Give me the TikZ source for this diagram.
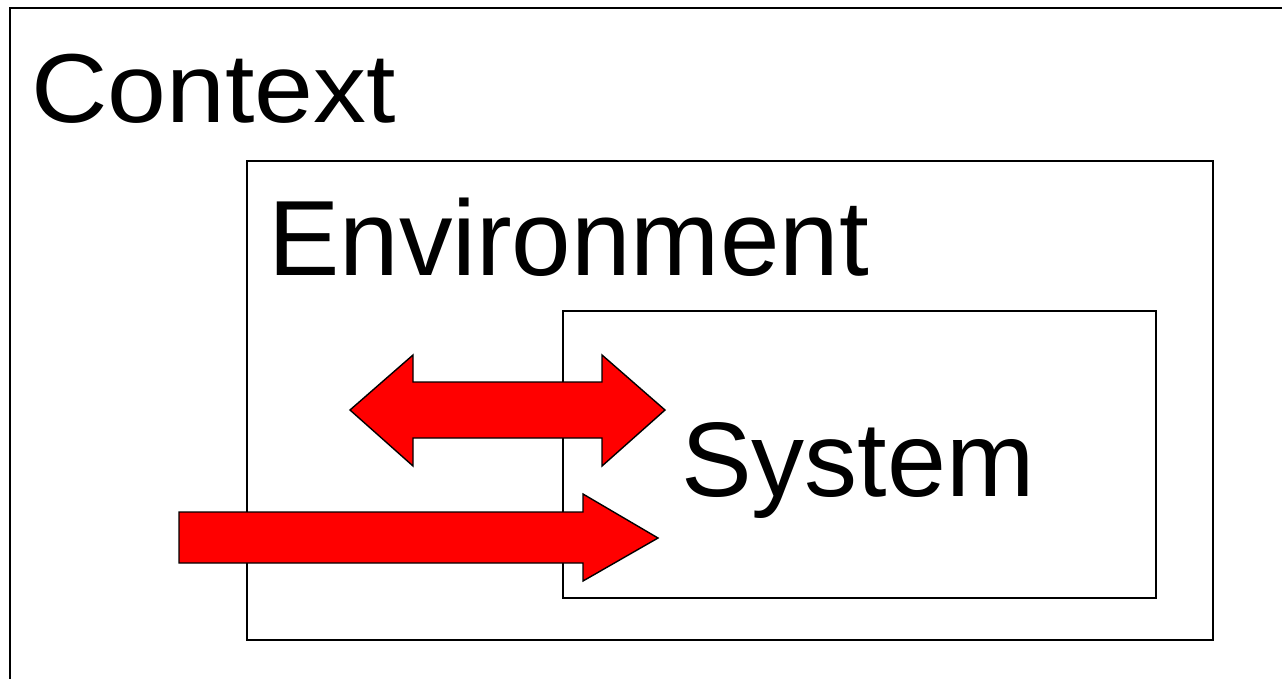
\documentclass[tikz,border=0pt]{standalone}
\usepackage{fontspec}
\setmainfont{Liberation Sans}
\begin{document}
\begin{tikzpicture}[x=1pt,y=-1pt,
  box/.style={draw=black,line width=1.8pt},
  blockarrow/.style={draw=black,fill=red,line width=1.4pt,line join=miter},
  label/.style={inner sep=0pt,anchor=base west,text=black}]
\useasboundingbox (0,0) rectangle (1282,678);
\begin{scope}
\clip (0,0) rectangle (1282,678);
\draw[box,line width=2pt] (10,8) rectangle (1300,700);
\end{scope}
\draw[box] (247,161) rectangle (1213,640);
\draw[box,line width=1.5pt] (563,311) rectangle (1156,598);
% double arrow
\draw[blockarrow] (350,410) -- (413,355) -- (413,382) -- (602,382) -- (602,355) -- (665,410)
  -- (602,466) -- (602,438) -- (413,438) -- (413,466) -- cycle;
% single arrow
\draw[blockarrow] (179,512) -- (583,512) -- (583,494) -- (658,538) -- (583,581) -- (583,563) -- (179,563) -- cycle;
\node[label] (ctx) at (31,122) {\scalebox{1.08}[1]{\fontsize{98}{118}\selectfont Context}};
\node[label] (env) at (268,275) {\fontsize{107}{130}\selectfont Environment};
\node[label] (sys) at (681,496) {\fontsize{106}{130}\selectfont System};
\end{tikzpicture}
\end{document}
